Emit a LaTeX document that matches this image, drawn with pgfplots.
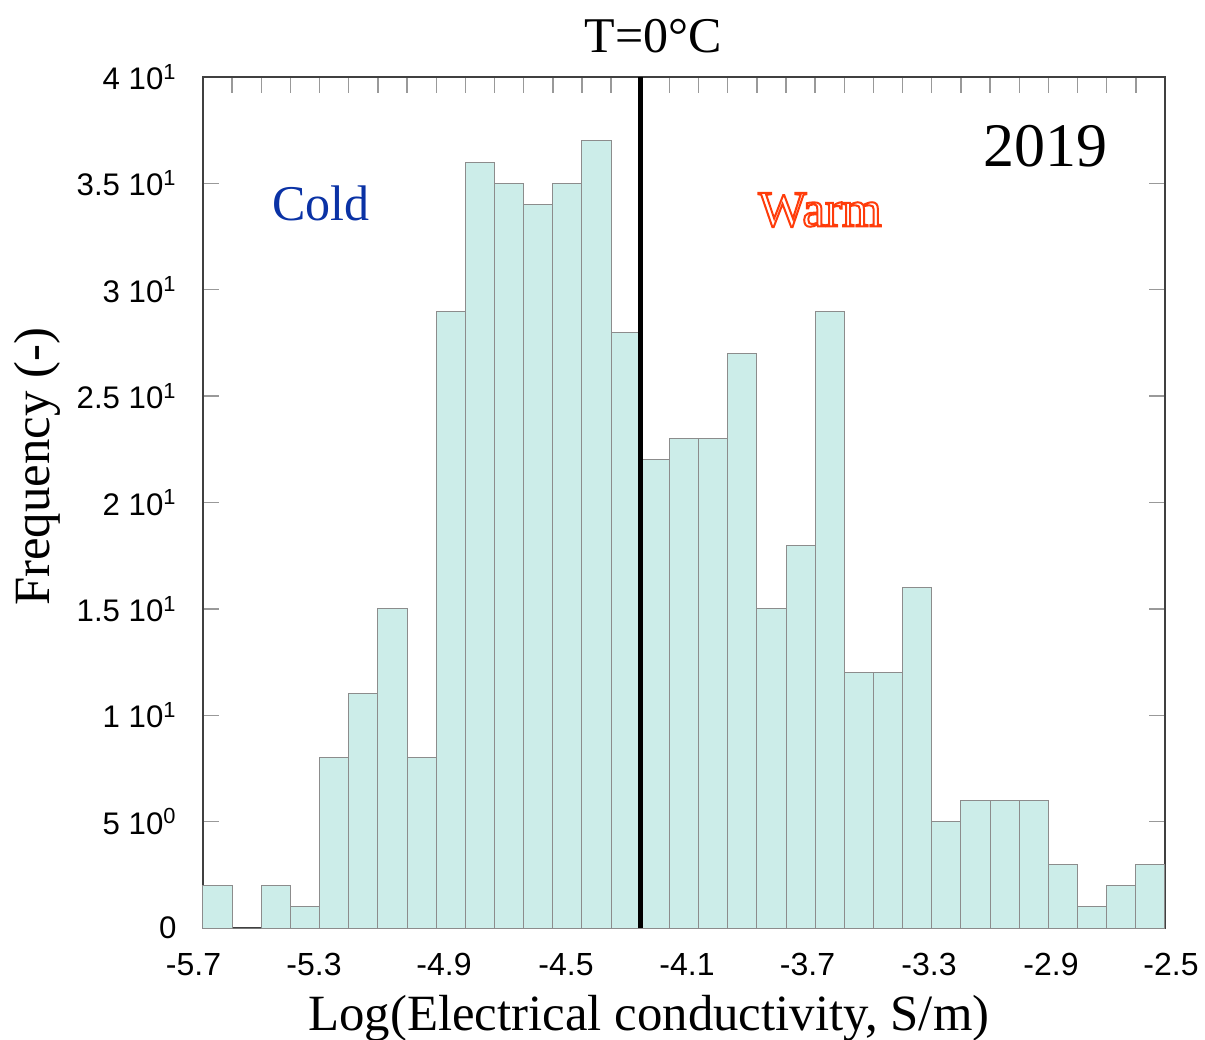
\documentclass[border=0pt]{standalone}
\usepackage{fontspec}
\setmainfont{Liberation Serif}
\newfontfamily\arial{Liberation Sans}
\usepackage{pgfplots}
\pgfplotsset{compat=1.18}

\definecolor{barfill}{RGB}{204,237,233}
\definecolor{coldblue}{RGB}{10,50,165}
\definecolor{warmred}{RGB}{255,60,10}

% histogram: left bin edge, count (33 bins from -5.7 to -2.5)
\pgfplotstableread{
x count
-5.70000 2
-5.60303 0
-5.50606 2
-5.40909 1
-5.31212 8
-5.21515 11
-5.11818 15
-5.02121 8
-4.92424 29
-4.82727 36
-4.73030 35
-4.63333 34
-4.53636 35
-4.43939 37
-4.34242 28
-4.24545 22
-4.14848 23
-4.05152 23
-3.95455 27
-3.85758 15
-3.76061 18
-3.66364 29
-3.56667 12
-3.46970 12
-3.37273 16
-3.27576 5
-3.17879 6
-3.08182 6
-2.98485 6
-2.88788 3
-2.79091 1
-2.69394 2
-2.59697 3
-2.50000 3
}\hist

\begin{document}
\begin{tikzpicture}
\path[use as bounding box] (-101.5pt,-55.5pt) rectangle (501pt,464pt);
\begin{axis}[
    scale only axis,
    width=481pt, height=425.5pt,
    xmin=-5.7, xmax=-2.5,
    ymin=0, ymax=40,
    clip=false,
    axis line style={black!75, line width=1pt},
    major tick length=8pt,
    tick style={black!40, line width=0.7pt},
    xtick={-5.7,-5.60303,-5.50606,-5.40909,-5.31212,-5.21515,-5.11818,-5.02121,
           -4.92424,-4.82727,-4.73030,-4.63333,-4.53636,-4.43939,-4.34242,-4.24545,
           -4.14848,-4.05152,-3.95455,-3.85758,-3.76061,-3.66364,-3.56667,-3.46970,
           -3.37273,-3.27576,-3.17879,-3.08182,-2.98485,-2.88788,-2.79091,-2.69394,
           -2.59697,-2.5},
    xticklabels={},
    % label positions as set in the original figure (slightly spread)
    extra x ticks={-5.7,-5.3308,-4.8983,-4.4925,-4.0900,-3.6892,-3.2850,-2.8792,-2.5},
    extra x tick labels={\kern-9.5pt-5.7,-5.3,-4.9,-4.5,-4.1,-3.7,-3.3,-2.9,-2.5\kern-6pt},
    extra x tick style={major tick length=0pt},
    ytick={0,5,10,15,20,25,30,35,40},
    yticklabels={0,5 10\textsuperscript{0},1 10\textsuperscript{1},1.5 10\textsuperscript{1},
                 2 10\textsuperscript{1},2.5 10\textsuperscript{1},3 10\textsuperscript{1},
                 3.5 10\textsuperscript{1},4 10\textsuperscript{1}},
    xticklabel style={font=\arial\fontsize{16}{16}\selectfont, anchor=base, inner sep=0pt, yshift=-23.5pt},
    yticklabel style={font=\arial\fontsize{15.6}{15.6}\selectfont, anchor=east, inner sep=0pt, xshift=-13pt},
]
\addplot[ybar interval, fill=barfill, draw=black!45, line width=0.5pt] table[x=x, y=count] {\hist};
\addplot[black, line width=2.5pt] coordinates {(-4.24545,0) (-4.24545,40)};

\node[anchor=base, yshift=12.5pt, font=\fontsize{25}{25}\selectfont] at (axis cs:-4.203,40) {T=0°C};
\node[anchor=base, yshift=-51pt, font=\fontsize{25.4}{25.4}\selectfont] at (axis cs:-4.2165,0) {Log(Electrical conductivity, S/m)};
\node[rotate=90, anchor=base, font=\fontsize{25.4}{25.4}\selectfont] at ([xshift=-76.5pt]axis cs:-5.7,21.67) {Frequency (-)};

\node[font=\fontsize{31}{31}\selectfont] at (axis cs:-2.899,36.76) {2019};
\node[text=coldblue, font=\fontsize{25}{25}\selectfont] at (axis cs:-5.3075,34.08) {Cold};
\node[text=warmred, font=\fontsize{25.5}{25.5}\selectfont] at (axis cs:-3.6476,33.75)
    {\special{pdf:code q 1 Tr 1 w}Warm\special{pdf:code Q}};
\end{axis}
\end{tikzpicture}
\end{document}
